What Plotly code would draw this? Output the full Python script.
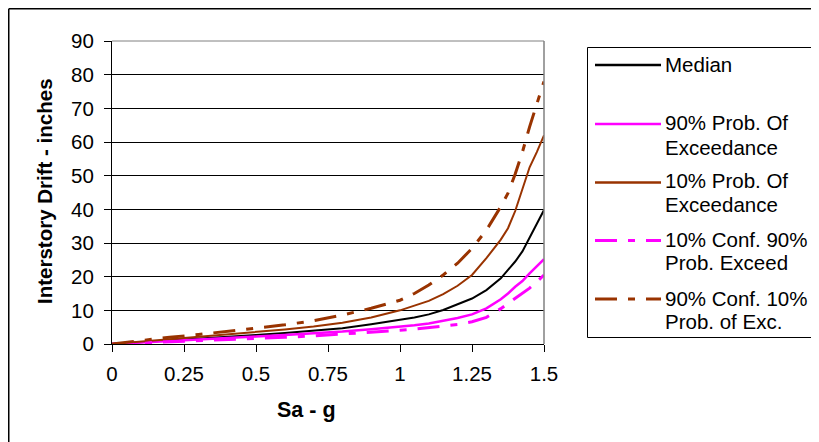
import plotly.graph_objects as go

# ---------------- data ----------------
sa_g = [0, 0.1, 0.2, 0.3, 0.4, 0.5, 0.6, 0.7, 0.8, 0.9, 1.0, 1.05, 1.1, 1.15,
        1.2, 1.25, 1.3, 1.35, 1.375, 1.4, 1.425, 1.45, 1.475, 1.5]

median = [0, 0.5, 1.0, 1.6, 2.2, 2.7, 3.3, 3.9, 4.7, 5.9, 7.1, 7.9, 8.8, 10.1,
          11.8, 13.5, 16.0, 19.5, 22.0, 24.5, 27.5, 31.5, 35.5, 39.8]

poe90 = [0, 0.4, 0.9, 1.3, 1.8, 2.2, 2.7, 3.1, 3.7, 4.4, 5.1, 5.6, 6.1, 6.8,
         7.7, 8.8, 10.6, 13.3, 15.0, 17.0, 18.7, 21.0, 23.2, 25.2]

poe10 = [0, 0.7, 1.4, 2.1, 2.8, 3.5, 4.3, 5.2, 6.3, 7.9, 10.0, 11.4, 12.8, 14.8,
         17.3, 20.5, 25.5, 31.0, 34.4, 39.5, 46.0, 52.5, 57.0, 62.0]

conf10_poe90 = [0, 0.3, 0.6, 0.9, 1.3, 1.7, 2.0, 2.4, 2.9, 3.5, 4.1, 4.4, 4.8, 5.2,
                5.8, 6.6, 7.9, 10.5, 12.0, 13.5, 15.0, 16.6, 18.5, 20.5]

conf90_poe10 = [0, 1.1, 2.0, 2.8, 3.7, 4.6, 5.7, 6.9, 8.6, 10.6, 13.0, 15.0, 17.5, 20.5,
                24.0, 28.4, 33.8, 40.8, 44.8, 50.5, 57.0, 64.5, 71.5, 78.0]

x_ticks = [0, 0.25, 0.5, 0.75, 1.0, 1.25, 1.5]
x_tick_labels = ["0", "0.25", "0.5", "0.75", "1", "1.25", "1.5"]
y_ticks = [0, 10, 20, 30, 40, 50, 60, 70, 80, 90]

series_names = [["Median"], ["90% Prob. Of", "Exceedance"], ["10% Prob. Of", "Exceedance"],
                ["10% Conf. 90%", "Prob. Exceed"], ["90% Conf. 10%", "Prob. of Exc."]]

# ---------------- styling ----------------
BROWN = "#993300"
MAGENTA = "#FF00FF"
DASH = "22px,11px,7px,11px"
FONT = "Liberation Sans, Arial, sans-serif"

styles = [
    dict(color="black", width=2, dash="solid"),
    dict(color=MAGENTA, width=2.5, dash="solid"),
    dict(color=BROWN, width=2, dash="solid"),
    dict(color=MAGENTA, width=3, dash=DASH),
    dict(color=BROWN, width=3, dash=DASH),
]
series_vals = [median, poe90, poe10, conf10_poe90, conf90_poe10]

OFF = 8                     # page body margin
W, H = 819 - OFF, 442 - OFF
PL, PR, PT, PB = 112 - OFF, 544 - OFF, 41 - OFF, 344 - OFF


def px(x):  # page pixel -> paper
    return (x - OFF - PL) / (PR - PL)


def py(y):
    return (PB - (y - OFF)) / (PB - PT)


def hline(x0, x1, y, color="black", width=1.0, dash="solid", layer="below"):
    return dict(type="line", xref="paper", yref="paper", x0=px(x0), x1=px(x1), y0=py(y), y1=py(y),
                line=dict(color=color, width=width, dash=dash), layer=layer)


def vline(x, y0, y1, color="black", width=1.0, layer="below"):
    return dict(type="line", xref="paper", yref="paper", x0=px(x), x1=px(x), y0=py(y0), y1=py(y1),
                line=dict(color=color, width=width), layer=layer)


fig = go.Figure()
for names, vals, st in zip(series_names, series_vals, styles):
    fig.add_trace(go.Scatter(x=sa_g, y=vals, mode="lines", name=" ".join(names),
                             line=dict(color=st["color"], width=st["width"], dash=st["dash"]),
                             showlegend=False, hoverinfo="skip"))

shapes = []
# outer chart frame: only left and top edges are inside the picture
shapes.append(vline(8.75, 8.75, 442, width=1.5))
shapes.append(hline(8.75, 819, 8.75, width=1.5))
# plot area border, top and right (gray)
shapes.append(dict(type="line", xref="paper", yref="paper", x0=1, x1=1, y0=0, y1=1,
                   line=dict(color="#808080", width=1.5), layer="above"))
shapes.append(dict(type="line", xref="paper", yref="paper", x0=0, x1=1, y0=1, y1=1,
                   line=dict(color="#808080", width=1), layer="below"))
# legend box: left, top and bottom edges (right edge lies outside the picture)
shapes.append(vline(587.5, 47.5, 337.5))
shapes.append(hline(587.5, 819, 47.5))
shapes.append(hline(587.5, 819, 337.5))

annotations = []
leg_sample_y = [65, 124, 182.5, 240.5, 299]
leg_text_y = [[65], [122, 147], [180, 204.5], [239, 262], [298, 321]]
for names, st, ys, yts in zip(series_names, styles, leg_sample_y, leg_text_y):
    shapes.append(hline(595, 661, ys, color=st["color"],
                        width=3 if st["dash"] != "solid" else 2.5, dash=st["dash"], layer="above"))
    for txt, yt in zip(names, yts):
        annotations.append(dict(text=txt, xref="paper", yref="paper", x=px(663), y=py(yt),
                                xanchor="left", yanchor="middle", showarrow=False, align="left",
                                font=dict(family=FONT, size=20.5, color="black")))

# axis titles
annotations.append(dict(text="<b>Sa - g</b>", xref="paper", yref="paper", x=px(306), y=py(410),
                        xanchor="center", yanchor="middle", showarrow=False,
                        font=dict(family=FONT, size=21.5, color="black")))
annotations.append(dict(text="<b>Interstory Drift - inches</b>", xref="paper", yref="paper", x=px(44), y=py(191),
                        xanchor="center", yanchor="middle", showarrow=False, textangle=-90,
                        font=dict(family=FONT, size=20.5, color="black")))

fig.update_layout(
    width=W, height=H,
    margin=dict(l=PL, r=W - PR, t=PT, b=H - PB, pad=0),
    paper_bgcolor="white", plot_bgcolor="white",
    font=dict(family=FONT, size=20, color="black"),
    shapes=shapes, annotations=annotations,
    showlegend=False,
    xaxis=dict(range=[0, 1.5], tickvals=x_ticks, ticktext=x_tick_labels,
               showgrid=False, zeroline=False, showline=True, linecolor="black", linewidth=1,
               ticks="outside", ticklen=7, tickcolor="black", tickwidth=1,
               tickfont=dict(family=FONT, size=20.5), automargin=False, ticklabelstandoff=4),
    yaxis=dict(range=[0, 90], tickvals=y_ticks,
               showgrid=True, gridcolor="black", gridwidth=1, zeroline=False,
               showline=True, linecolor="black", linewidth=1,
               ticks="outside", ticklen=7, tickcolor="black", tickwidth=1,
               tickfont=dict(family=FONT, size=20.5), automargin=False, ticklabelstandoff=6),
)

fig.write_html("out.html")
